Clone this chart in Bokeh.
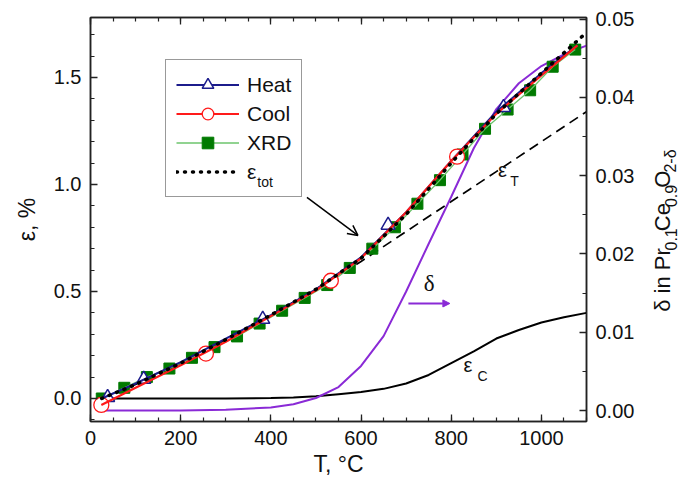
import math
from bokeh.plotting import figure
from bokeh.layouts import row
from bokeh.models import (Range1d, LinearAxis, SingleIntervalTicker, Legend, LegendItem,
                          Label, Arrow, OpenHead, NormalHead, NumeralTickFormatter,
                          CustomJSTickFormatter)
from bokeh.core.properties import value
from bokeh.embed import file_html
from bokeh.resources import INLINE

# ---------------- data ----------------
T_curve = [25, 100, 200, 300, 400, 500, 600, 700, 800, 900, 1000, 1100]
eps_tot = [0.0, 0.065, 0.165, 0.275, 0.39, 0.51, 0.655, 0.86, 1.10, 1.33, 1.52, 1.71]
eps_T = [0.0, 0.065, 0.165, 0.275, 0.39, 0.51, 0.64, 0.78, 0.92, 1.06, 1.20, 1.34]

T_heat_line = [25, 100, 200, 300, 400, 500, 600, 700, 800, 900, 1000, 1080]
eps_heat_line = [0.0, 0.07, 0.17, 0.28, 0.39, 0.51, 0.66, 0.87, 1.11, 1.34, 1.52, 1.65]
T_heat = [38, 118, 382, 660, 916]
eps_heat = [0.005, 0.09, 0.37, 0.81, 1.36]

T_cool_line = [24, 100, 200, 300, 400, 500, 600, 700, 800, 900, 1000, 1080]
eps_cool_line = [-0.03, 0.05, 0.155, 0.265, 0.385, 0.505, 0.655, 0.87, 1.11, 1.33, 1.51, 1.65]
T_cool = [24, 256, 533, 813]
eps_cool = [-0.03, 0.21, 0.55, 1.13]

T_xrd = [25, 75, 125, 175, 225, 275, 325, 375, 425, 475, 525, 575, 625, 675, 725,
         775, 825, 875, 925, 975, 1025, 1075]
eps_xrd = [0.0, 0.05, 0.10, 0.14, 0.19, 0.24, 0.29, 0.35, 0.41, 0.47, 0.53, 0.61,
           0.70, 0.80, 0.91, 1.02, 1.14, 1.26, 1.35, 1.44, 1.55, 1.63]

T_fine = [25, 100, 200, 300, 400, 450, 500, 550, 600, 650, 700, 750, 800, 850, 900,
          950, 1000, 1050, 1100]
eps_C = [0.0, 0.0, 0.0, 0.0, 0.002, 0.005, 0.01, 0.02, 0.03, 0.045, 0.07, 0.11, 0.165,
         0.22, 0.28, 0.32, 0.355, 0.38, 0.40]
delta = [0.0, 0.0, 0.0, 0.0001, 0.0004, 0.0008, 0.0016, 0.003, 0.0057, 0.0095, 0.0152,
         0.0213, 0.0273, 0.0335, 0.0385, 0.0418, 0.044, 0.0455, 0.0466]

FONT = "Liberation Sans"
INK = "#111111"
PURPLE = "#8a2ad6"
NAVY = "#1c1c8c"
RED = "#ff1a1a"
GREEN = "#007a00"
LGREEN = "#6cc46c"

p = figure(width=645, height=496, output_backend="svg", toolbar_location=None,
           x_range=Range1d(0, 1100), y_range=Range1d(-0.1075, 1.78),
           min_border_left=90, min_border_right=59, min_border_top=17,
           min_border_bottom=75)
p.extra_y_ranges = {"delta": Range1d(-0.0014, 0.0502)}
p.grid.visible = False
p.outline_line_color = "#222222"
p.outline_line_width = 1.5
p.background_fill_color = "white"
p.border_fill_color = "white"

bottom_axis = p.below[0]
left_axis = p.left[0]
bottom_axis.ticker = SingleIntervalTicker(interval=200, num_minor_ticks=4)
bottom_axis.formatter = NumeralTickFormatter(format="0")
left_axis.ticker = SingleIntervalTicker(interval=0.5, num_minor_ticks=5)
left_axis.formatter = NumeralTickFormatter(format="0.0")

top_axis = LinearAxis(ticker=SingleIntervalTicker(interval=200, num_minor_ticks=4),
                      formatter=CustomJSTickFormatter(code="return ''"),
                      major_label_standoff=0)
p.add_layout(top_axis, "above")
right_axis = LinearAxis(y_range_name="delta",
                        ticker=SingleIntervalTicker(interval=0.01, num_minor_ticks=2),
                        formatter=NumeralTickFormatter(format="0.00"))
p.add_layout(right_axis, "right")

for ax in [bottom_axis, left_axis, top_axis, right_axis]:
    ax.axis_line_color = "#222222"
    ax.axis_line_width = 1.5
    ax.major_tick_line_color = "#222222"
    ax.minor_tick_line_color = "#222222"
    ax.major_tick_line_width = 1.3
    ax.minor_tick_line_width = 1.2
    ax.major_tick_in = 7
    ax.major_tick_out = 0
    ax.minor_tick_in = 4
    ax.minor_tick_out = 0
    ax.major_label_text_font = FONT
    ax.major_label_text_color = INK
for ax in [bottom_axis, left_axis, right_axis]:
    ax.major_label_text_font_size = "20px"
    ax.major_label_standoff = 9

bottom_axis.axis_label = "T, °C"
left_axis.axis_label = "ε, %"
for ax in [bottom_axis, left_axis]:
    ax.axis_label_text_font = FONT
    ax.axis_label_text_font_size = "23px"
    ax.axis_label_text_font_style = "normal"
    ax.axis_label_text_color = INK
bottom_axis.axis_label_standoff = 3
left_axis.axis_label_standoff = 11

# ---------------- glyphs ----------------
p.line(T_curve, eps_T, line_color="black", line_width=1.7, line_dash="10 6")
p.line(T_fine, eps_C, line_color="black", line_width=2)
p.line(T_fine, delta, line_color=PURPLE, line_width=2, y_range_name="delta")

xrd_pts = p.scatter(T_xrd, eps_xrd, marker="square", size=11, fill_color=GREEN,
                    line_color=GREEN)
xrd_line = p.line(T_xrd, eps_xrd, line_color=LGREEN, line_width=1.3)
heat_pts = p.scatter(T_heat, eps_heat, marker="triangle", size=14, fill_color="white",
                     line_color=NAVY, line_width=1.5)
cool_pts = p.scatter(T_cool, eps_cool, marker="circle", size=15, fill_color="white",
                     line_color=RED, line_width=1.3)
heat_line = p.line(T_heat_line, eps_heat_line, line_color=NAVY, line_width=2)
cool_line = p.line(T_cool_line, eps_cool_line, line_color=RED, line_width=2.2)
tot_line = p.line(T_curve, eps_tot, line_color="black", line_width=3.5, line_dash="1 7",
                  line_cap="round")

legend = Legend(items=[
    LegendItem(label="Heat", renderers=[heat_line, heat_pts]),
    LegendItem(label="Cool", renderers=[cool_line, cool_pts]),
    LegendItem(label="XRD", renderers=[xrd_line, xrd_pts]),
    LegendItem(label="ε", renderers=[tot_line]),
], location=(75, 224))
legend.border_line_color = "#333333"
legend.border_line_width = 1.2
legend.background_fill_alpha = 0
legend.glyph_width = 63
legend.glyph_height = 29
legend.spacing = 0
legend.padding = 10
legend.margin = 0
legend.label_standoff = 8
legend.label_text_font = FONT
legend.label_text_font_size = "21px"
legend.label_text_color = INK
p.add_layout(legend)

# subscript of the legend's epsilon
p.add_layout(Label(x=370, y=0.976, text="tot", text_font=FONT, text_font_size="14px",
                   text_color=INK))

# ---------------- annotations ----------------
p.add_layout(Arrow(end=OpenHead(size=10, line_color="black", line_width=1.5),
                   x_start=480, y_start=0.94, x_end=593, y_end=0.762,
                   line_color="black", line_width=1.5))
p.add_layout(Arrow(end=NormalHead(size=7, fill_color=PURPLE, line_color=PURPLE),
                   x_start=705, y_start=0.444, x_end=797, y_end=0.444,
                   line_color=PURPLE, line_width=2))
p.add_layout(Label(x=751, y=0.537, text="δ", text_align="center", text_baseline="middle",
                   text_font="Liberation Serif", text_font_size="23px", text_color=INK))

p.add_layout(Label(x=904, y=1.014, text="ε", text_font=FONT, text_font_size="20px",
                   text_color=INK))
p.add_layout(Label(x=931, y=0.981, text="T", text_font=FONT, text_font_size="14px",
                   text_color=INK))
p.add_layout(Label(x=827, y=0.103, text="ε", text_font=FONT, text_font_size="20px",
                   text_color=INK))
p.add_layout(Label(x=858, y=0.07, text="C", text_font=FONT, text_font_size="14px",
                   text_color=INK))

# ---------------- right axis title (separate strip, rotated, with subscripts) ----------
EM = {"δ": 0.75, " ": 0.278, "i": 0.222, "n": 0.556, "P": 0.667, "r": 0.333, "C": 0.722,
      "e": 0.556, "O": 0.778, "0": 0.556, ".": 0.278, "1": 0.556, "9": 0.556, "2": 0.556,
      "-": 0.333}
MAIN, SUB, GAP = 22, 16, 1.5
pieces = [("δ in Pr", False, 6), ("0.1", True, 0), ("Ce", False, 0), ("0.9", True, 0),
          ("O", False, 0), ("2-δ", True, 0)]
widths = [sum(EM[c] for c in t) * (SUB if s else MAIN) + GAP + extra
          for t, s, extra in pieces]
total = sum(widths)

strip = figure(width=49, height=496, output_backend="svg", toolbar_location=None,
               x_range=Range1d(0, 49), y_range=Range1d(0, 496),
               x_axis_type=None, y_axis_type=None, min_border=0)
strip.outline_line_color = None
strip.background_fill_color = "white"
strip.border_fill_color = "white"
strip.grid.visible = False

pos = (496 - 262) - total / 2
mx, my, mt, sx, sy, st = [], [], [], [], [], []
for (t, s, _), w in zip(pieces, widths):
    if s:
        sx.append(25); sy.append(pos); st.append(t)
    else:
        mx.append(17); my.append(pos); mt.append(t)
    pos += w
strip.text(mx, my, text=mt, angle=math.pi / 2, text_font=value(FONT),
           text_font_size=value(f"{MAIN}px"), text_color=INK,
           text_baseline="alphabetic", text_align="left")
strip.text(sx, sy, text=st, angle=math.pi / 2, text_font=value(FONT),
           text_font_size=value(f"{SUB}px"), text_color=INK,
           text_baseline="alphabetic", text_align="left")

layout = row(p, strip, spacing=0)
open("out.html", "w").write(file_html(layout, INLINE))
